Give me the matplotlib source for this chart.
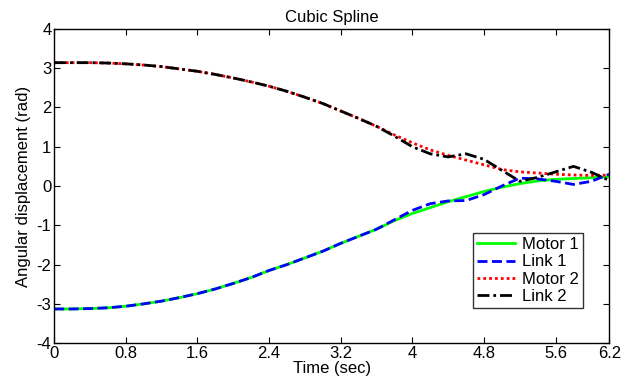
import numpy as np
import matplotlib.pyplot as plt

plt.rcParams['font.family'] = ['Liberation Sans', 'DejaVu Sans']
plt.rcParams['axes.unicode_minus'] = False

# time grid (sec)
t = np.arange(0, 6.21, 0.2)

# shared part of the trajectories (0 .. 3.6 s)
upper_common = [3.14, 3.14, 3.14, 3.13, 3.11, 3.08, 3.04, 2.98, 2.92, 2.84,
                2.75, 2.65, 2.54, 2.41, 2.26, 2.10, 1.91, 1.72, 1.52]
lower_common = [-3.13, -3.13, -3.12, -3.10, -3.06, -3.00, -2.93, -2.84, -2.74, -2.62,
                -2.48, -2.33, -2.15, -2.00, -1.83, -1.66, -1.46, -1.28, -1.10]

# 3.8 .. 6.2 s
motor1_tail = [-0.88, -0.70, -0.55, -0.40, -0.27, -0.14, -0.03, 0.06, 0.13, 0.17, 0.19, 0.21, 0.24]
link1_tail = [-0.86, -0.62, -0.45, -0.38, -0.37, -0.22, 0.00, 0.20, 0.18, 0.12, 0.04, 0.12, 0.30]
motor2_tail = [1.30, 1.10, 0.92, 0.78, 0.66, 0.54, 0.42, 0.36, 0.33, 0.30, 0.28, 0.27, 0.28]
link2_tail = [1.27, 1.00, 0.82, 0.74, 0.82, 0.68, 0.40, 0.12, 0.22, 0.36, 0.50, 0.35, 0.14]

motor1 = lower_common + motor1_tail
link1 = lower_common + link1_tail
motor2 = upper_common + motor2_tail
link2 = upper_common + link2_tail

xticks = [0, 0.8, 1.6, 2.4, 3.2, 4, 4.8, 5.6, 6.2]
xticklabels = ['0', '0.8', '1.6', '2.4', '3.2', '4', '4.8', '5.6', '6.2']

fig = plt.figure(figsize=(6.23, 3.8), dpi=100)
ax = fig.add_axes([0.087, 0.097, 0.891, 0.827])

lw = 2.0
ax.plot(t, motor1, color=(0, 1, 0), lw=lw, label='Motor 1')
ax.plot(t, link1, color=(0, 0, 1), lw=lw, ls=(0, (3.6, 1.6)), label='Link 1')
ax.plot(t, motor2, color=(1, 0, 0), lw=lw, ls=(0, (1, 1.1)), label='Motor 2')
ax.plot(t, link2, color='k', lw=lw, ls=(0, (4.3, 1.4, 1, 1.4)), label='Link 2')

ax.set_xlim(0, 6.2)
ax.set_ylim(-4, 4)
ax.set_xticks(xticks)
ax.set_xticklabels(xticklabels)
ax.set_yticks(range(-4, 5))
ax.tick_params(direction='in', top=True, right=True, labelsize=12, length=4, width=0.8, pad=2)
for s in ax.spines.values():
    s.set_linewidth(1.0)

ax.set_title('Cubic Spline', fontsize=12, pad=5)
ax.set_xlabel('Time (sec)', fontsize=12, labelpad=0)
ax.set_ylabel('Angular displacement (rad)', fontsize=12, labelpad=4)

leg = ax.legend(loc='lower right', bbox_to_anchor=(0.953, 0.111), fontsize=12,
                frameon=True, fancybox=False, edgecolor='k', handlelength=2.3,
                borderpad=0.25, labelspacing=0.14, handletextpad=0.4, borderaxespad=0)
leg.get_frame().set_linewidth(1.0)

fig.savefig('out.png', dpi=100)
